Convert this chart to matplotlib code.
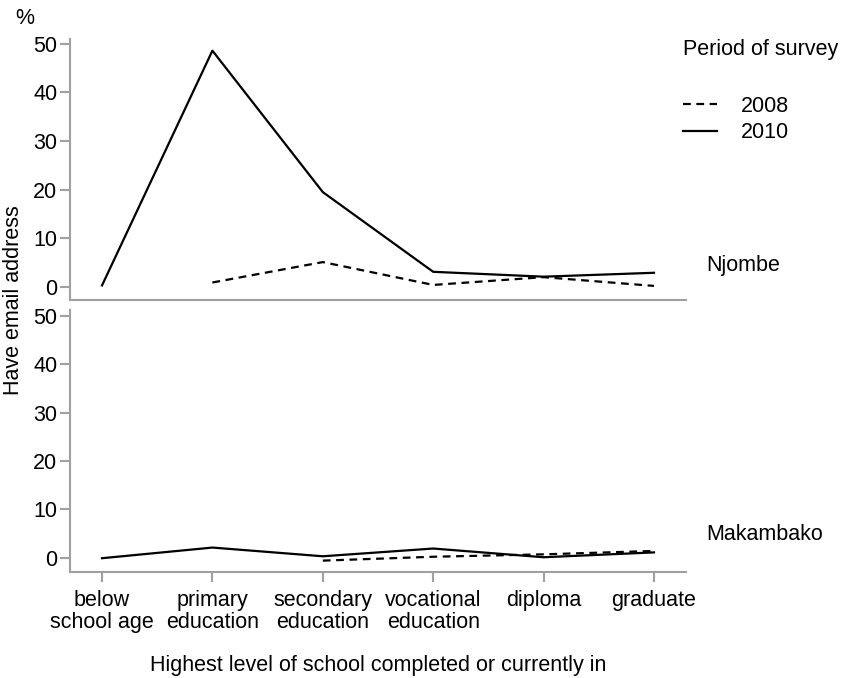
import matplotlib
matplotlib.use("Agg")
import matplotlib.pyplot as plt
import numpy as np

plt.rcParams['font.family'] = ['Liberation Sans', 'DejaVu Sans']
FS = 15.5

categories = ["below\nschool age", "primary\neducation", "secondary\neducation",
              "vocational\neducation", "diploma", "graduate"]
njombe_2008 = [np.nan, 0.9, 5.1, 0.4, 2.0, 0.2]
njombe_2010 = [0.3, 48.6, 19.5, 3.1, 2.1, 2.9]
makambako_2008 = [np.nan, np.nan, -0.6, 0.2, 0.7, 1.4]
makambako_2010 = [-0.1, 2.1, 0.3, 1.9, 0.1, 1.1]
yticks = [0, 10, 20, 30, 40, 50]

W, H = 842, 678
fig = plt.figure(figsize=(W / 100, H / 100), dpi=100)

def fa(x0, y0, x1, y1):
    return [x0 / W, 1 - y1 / H, (x1 - x0) / W, (y1 - y0) / H]

ax1 = fig.add_axes(fa(70, 39, 686, 300))
ax2 = fig.add_axes(fa(70, 310, 686, 572))
x = np.arange(len(categories))
gray = '#a0a0a0'
dash = (0, (3.5, 2.5))
LW = 1.6

l08, = ax1.plot(x, njombe_2008, color='black', lw=LW, linestyle=dash, label='2008')
l10, = ax1.plot(x, njombe_2010, color='black', lw=LW, label='2010')
ax2.plot(x, makambako_2008, color='black', lw=LW, linestyle=dash)
ax2.plot(x, makambako_2010, color='black', lw=LW)

for ax, ylim in ((ax1, (-2.7, 51.0)), (ax2, (-2.95, 51.2))):
    ax.set_xlim(-0.29, 5.29)
    ax.set_ylim(*ylim)
    ax.set_yticks(yticks)
    ax.spines['top'].set_visible(False)
    ax.spines['right'].set_visible(False)
    for s in ('left', 'bottom'):
        ax.spines[s].set_color(gray)
        ax.spines[s].set_linewidth(1.5)
    ax.tick_params(axis='both', colors=gray, width=1.5, length=7, labelcolor='black',
                   labelsize=FS, pad=2)

ax1.tick_params(axis='x', bottom=False, labelbottom=False)
ax2.set_xticks(x)
ax2.set_xticklabels(categories, linespacing=1.05)
ax2.tick_params(axis='x', pad=6)

fig.text(15 / W, 1 - 18 / H, '%', fontsize=FS, ha='left', va='center')
fig.text(14 / W, 1 - 300 / H, 'Have email address', fontsize=FS, rotation=90,
         ha='center', va='center')
fig.text(378 / W, 1 - 665 / H, 'Highest level of school completed or currently in',
         fontsize=FS, ha='center', va='center')
fig.text(683 / W, 1 - 50 / H, 'Period of survey', fontsize=FS, ha='left', va='center')
fig.text(706 / W, 1 - 265 / H, 'Njombe', fontsize=FS, ha='left', va='center')
fig.text(706 / W, 1 - 534 / H, 'Makambako', fontsize=FS, ha='left', va='center')

fig.legend(handles=[l08, l10], loc='upper left', bbox_to_anchor=(683 / W, 1 - 96 / H),
           frameon=False, borderpad=0, borderaxespad=0, handlelength=1.6,
           handletextpad=1.1, labelspacing=0.25, fontsize=FS)

fig.savefig('out.png', dpi=100)
